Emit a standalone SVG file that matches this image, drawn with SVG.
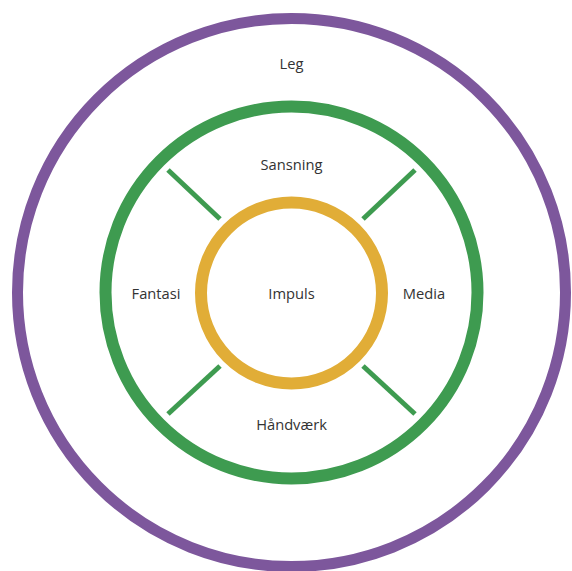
<svg xmlns="http://www.w3.org/2000/svg" width="572" height="571" viewBox="0 0 572 571">
  <style>
    .ring { fill: none; }
    .leg { stroke: #7d579c; stroke-width: 11; }
    .midt { stroke: #3e9b50; stroke-width: 12; }
    .kerne { stroke: #e1ad37; stroke-width: 12; }
    .spoke { stroke: #3e9b50; stroke-width: 5; stroke-linecap: butt; }
    .label { font-family: "Open Sans", "Noto Sans", "Liberation Sans", sans-serif; font-size: 14.7px; fill: #333333; text-anchor: middle; }
  </style>
  <rect width="572" height="571" fill="#ffffff"/>

  <g id="leg">
    <circle class="ring leg" cx="291.5" cy="292.5" r="274"/>
    <text class="label" x="291.5" y="69">Leg</text>
  </g>

  <g id="midt">
    <circle class="ring midt" cx="291.5" cy="292.5" r="186"/>
  </g>

  <g id="connectors">
    <line class="spoke" x1="168" y1="170" x2="220" y2="219"/>
    <line class="spoke" x1="415" y1="170" x2="363" y2="219"/>
    <line class="spoke" x1="168" y1="414" x2="220" y2="366"/>
    <line class="spoke" x1="415" y1="414" x2="363" y2="366"/>
  </g>

  <g id="impuls">
    <circle class="ring kerne" cx="291.5" cy="293" r="90.5"/>
    <text class="label" x="291.5" y="299">Impuls</text>
  </g>

  <g id="sansning"><text class="label" x="291.5" y="170">Sansning</text></g>
  <g id="fantasi"><text class="label" x="156" y="299">Fantasi</text></g>
  <g id="media"><text class="label" x="424" y="299">Media</text></g>
  <g id="haandvaerk"><text class="label" x="291.5" y="430">Håndværk</text></g>
</svg>
